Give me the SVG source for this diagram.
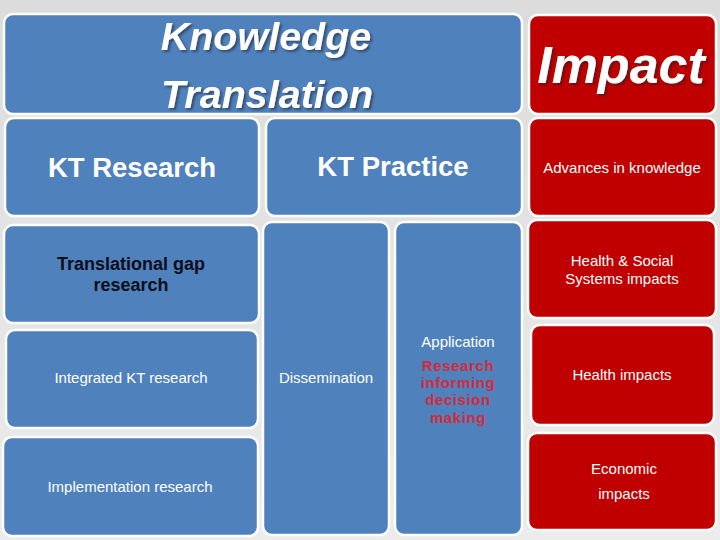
<svg xmlns="http://www.w3.org/2000/svg" width="720" height="540" viewBox="0 0 720 540">
<defs>
<linearGradient id="bg" x1="0" y1="0" x2="0" y2="1">
<stop offset="0" stop-color="#dcdcdc"/>
<stop offset="1" stop-color="#ececec"/>
</linearGradient>
<filter id="sh" x="-10%" y="-10%" width="120%" height="130%">
<feDropShadow dx="2" dy="2" stdDeviation="0.8" flood-color="#1a1a1a" flood-opacity="0.55"/>
</filter>
<style>
.b{fill:#4f81bd;stroke:#ffffff;stroke-width:2.5}
.r{fill:#c00000;stroke:#ffffff;stroke-width:2.5}
text{font-family:"Liberation Sans",Arial,sans-serif;text-anchor:middle}
.w{fill:#ffffff;font-size:15px}
.h{fill:#ffffff;font-size:27.5px;font-weight:bold}
.t{fill:#ffffff;font-weight:bold;font-style:italic;filter:url(#sh)}
.k{fill:#0d0d1a;font-size:18px;font-weight:bold}
.rd{fill:#d42a3a;font-size:15px;font-weight:bold;letter-spacing:0.6px}
</style>
</defs>
<rect x="0" y="0" width="720" height="540" fill="url(#bg)"/>
<g id="kt">
<rect class="b" x="4" y="14" width="518" height="100" rx="9"/>
<text class="t" x="266" y="50" font-size="39.5">Knowledge</text>
<text class="t" x="267" y="108" font-size="39.5">Translation</text>
</g>
<g id="impact">
<rect class="r" x="529" y="15" width="187" height="99" rx="9"/>
<text class="t" x="621" y="83" font-size="52">Impact</text>
</g>
<g id="kt-research">
<rect class="b" x="5" y="118" width="254" height="98" rx="9"/>
<text class="h" x="132" y="177">KT Research</text>
</g>
<g id="kt-practice">
<rect class="b" x="266" y="118" width="256" height="98" rx="9"/>
<text class="h" x="393" y="176">KT Practice</text>
</g>
<g id="advances">
<rect class="r" x="529" y="118" width="187" height="98" rx="9"/>
<text class="w" x="622" y="173">Advances in knowledge</text>
</g>
<g id="gap">
<rect class="b" x="4" y="225" width="255" height="98" rx="9"/>
<text class="k" x="131" y="270">Translational gap</text>
<text class="k" x="131" y="291">research</text>
</g>
<g id="integrated">
<rect class="b" x="6" y="330" width="252" height="98" rx="9"/>
<text class="w" x="131" y="383">Integrated KT research</text>
</g>
<g id="implementation">
<rect class="b" x="3" y="437" width="255" height="99" rx="9"/>
<text class="w" x="130" y="492">Implementation research</text>
</g>
<g id="dissemination">
<rect class="b" x="263" y="222" width="126" height="313" rx="9"/>
<text class="w" x="326" y="383">Dissemination</text>
</g>
<g id="application">
<rect class="b" x="395" y="222" width="127" height="313" rx="9"/>
<text class="w" x="458" y="347">Application</text>
<text class="rd" x="458" y="371">Research</text>
<text class="rd" x="458" y="388">informing</text>
<text class="rd" x="458" y="405">decision</text>
<text class="rd" x="458" y="423">making</text>
</g>
<g id="health-social">
<rect class="r" x="528" y="220" width="188" height="98" rx="9"/>
<text class="w" x="622" y="266">Health &amp; Social</text>
<text class="w" x="622" y="284">Systems impacts</text>
</g>
<g id="health">
<rect class="r" x="531" y="325" width="183" height="100" rx="9"/>
<text class="w" x="622" y="380">Health impacts</text>
</g>
<g id="economic">
<rect class="r" x="528" y="433" width="188" height="97" rx="9"/>
<text class="w" x="624" y="474">Economic</text>
<text class="w" x="624" y="499">impacts</text>
</g>
<g id="connectors"></g>
</svg>
